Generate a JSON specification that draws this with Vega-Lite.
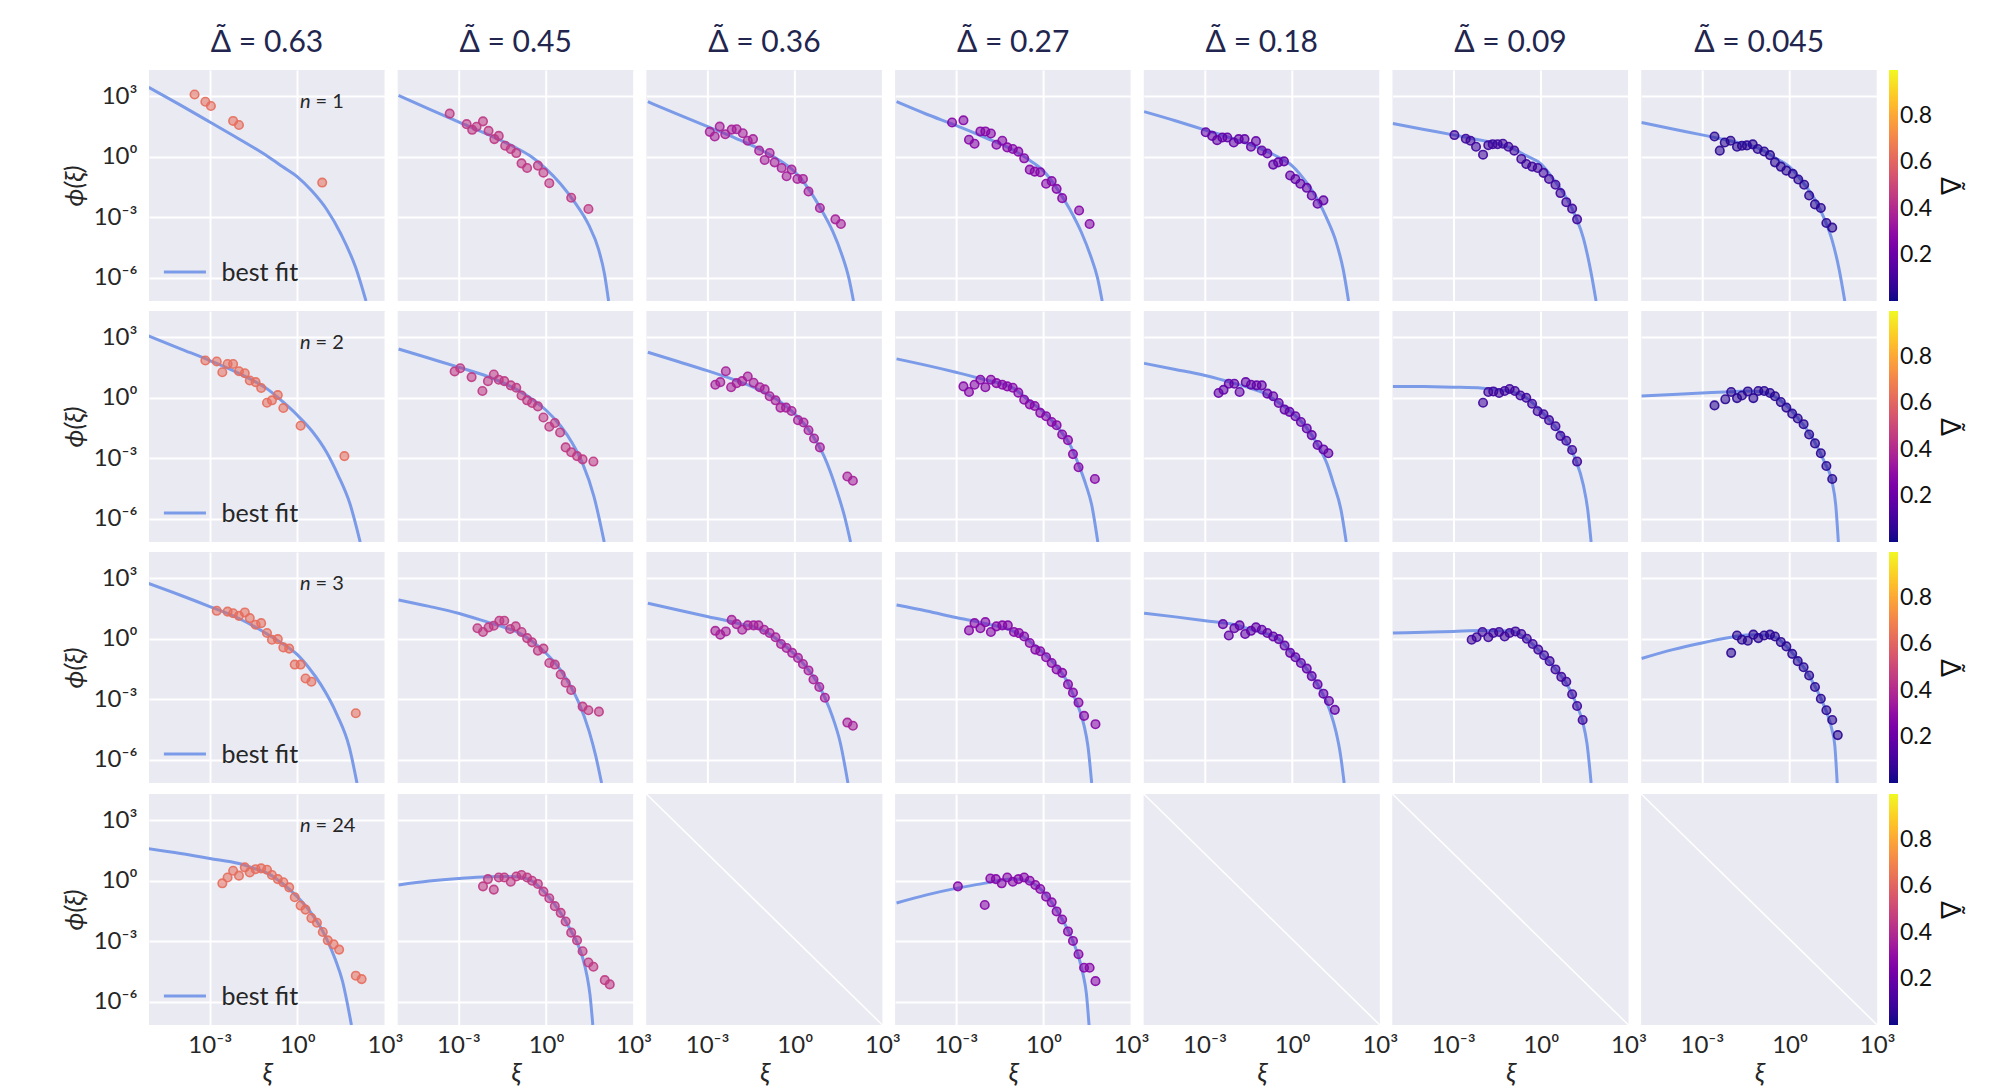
{
  "$schema": "https://vega.github.io/schema/vega-lite/v6.json",
  "background": "white",
  "padding": {"left": 61, "top": 28, "right": 5, "bottom": 5},
  "spacing": 10,
  "datasets": {
    "r1": [
      {"kind":"note","delta":0.63,"n_label":"= 1"},
      {"kind":"fit","delta":0.63,"log_xi":-5.09,"log_phi":3.43},{"kind":"fit","delta":0.63,"log_xi":-4,"log_phi":2.55},{"kind":"fit","delta":0.63,"log_xi":-3,"log_phi":1.72},{"kind":"fit","delta":0.63,"log_xi":-2,"log_phi":0.88},{"kind":"fit","delta":0.63,"log_xi":-1,"log_phi":0.0},{"kind":"fit","delta":0.63,"log_xi":-0.5,"log_phi":-0.5},{"kind":"fit","delta":0.63,"log_xi":0,"log_phi":-1.0},{"kind":"fit","delta":0.63,"log_xi":0.5,"log_phi":-1.7},{"kind":"fit","delta":0.63,"log_xi":1.0,"log_phi":-2.6},{"kind":"fit","delta":0.63,"log_xi":1.5,"log_phi":-3.85},{"kind":"fit","delta":0.63,"log_xi":2.0,"log_phi":-5.5},{"kind":"fit","delta":0.63,"log_xi":2.35,"log_phi":-7.14},
      {"kind":"fit","delta":0.45,"log_xi":-5.05,"log_phi":3.03},{"kind":"fit","delta":0.45,"log_xi":-4,"log_phi":2.35},{"kind":"fit","delta":0.45,"log_xi":-3,"log_phi":1.72},{"kind":"fit","delta":0.45,"log_xi":-2,"log_phi":1.1},{"kind":"fit","delta":0.45,"log_xi":-1,"log_phi":0.42},{"kind":"fit","delta":0.45,"log_xi":-0.5,"log_phi":0.0},{"kind":"fit","delta":0.45,"log_xi":0,"log_phi":-0.6},{"kind":"fit","delta":0.45,"log_xi":0.5,"log_phi":-1.35},{"kind":"fit","delta":0.45,"log_xi":1.0,"log_phi":-2.3},{"kind":"fit","delta":0.45,"log_xi":1.45,"log_phi":-3.35},{"kind":"fit","delta":0.45,"log_xi":1.8,"log_phi":-4.6},{"kind":"fit","delta":0.45,"log_xi":2.0,"log_phi":-5.8},{"kind":"fit","delta":0.45,"log_xi":2.14,"log_phi":-7.14},
      {"kind":"fit","delta":0.36,"log_xi":-5.03,"log_phi":2.72},{"kind":"fit","delta":0.36,"log_xi":-4,"log_phi":2.1},{"kind":"fit","delta":0.36,"log_xi":-3,"log_phi":1.5},{"kind":"fit","delta":0.36,"log_xi":-2,"log_phi":0.9},{"kind":"fit","delta":0.36,"log_xi":-1,"log_phi":0.22},{"kind":"fit","delta":0.36,"log_xi":-0.5,"log_phi":-0.2},{"kind":"fit","delta":0.36,"log_xi":0,"log_phi":-0.75},{"kind":"fit","delta":0.36,"log_xi":0.5,"log_phi":-1.65},{"kind":"fit","delta":0.36,"log_xi":0.9,"log_phi":-2.6},{"kind":"fit","delta":0.36,"log_xi":1.3,"log_phi":-3.7},{"kind":"fit","delta":0.36,"log_xi":1.6,"log_phi":-4.8},{"kind":"fit","delta":0.36,"log_xi":1.85,"log_phi":-6.0},{"kind":"fit","delta":0.36,"log_xi":2.01,"log_phi":-7.14},
      {"kind":"fit","delta":0.27,"log_xi":-5.03,"log_phi":2.72},{"kind":"fit","delta":0.27,"log_xi":-4,"log_phi":2.1},{"kind":"fit","delta":0.27,"log_xi":-3,"log_phi":1.55},{"kind":"fit","delta":0.27,"log_xi":-2,"log_phi":0.95},{"kind":"fit","delta":0.27,"log_xi":-1,"log_phi":0.3},{"kind":"fit","delta":0.27,"log_xi":-0.5,"log_phi":-0.15},{"kind":"fit","delta":0.27,"log_xi":0,"log_phi":-0.7},{"kind":"fit","delta":0.27,"log_xi":0.5,"log_phi":-1.65},{"kind":"fit","delta":0.27,"log_xi":0.9,"log_phi":-2.6},{"kind":"fit","delta":0.27,"log_xi":1.3,"log_phi":-3.75},{"kind":"fit","delta":0.27,"log_xi":1.6,"log_phi":-4.85},{"kind":"fit","delta":0.27,"log_xi":1.85,"log_phi":-6.0},{"kind":"fit","delta":0.27,"log_xi":2.01,"log_phi":-7.14},
      {"kind":"fit","delta":0.18,"log_xi":-5.07,"log_phi":2.23},{"kind":"fit","delta":0.18,"log_xi":-4,"log_phi":1.78},{"kind":"fit","delta":0.18,"log_xi":-3,"log_phi":1.33},{"kind":"fit","delta":0.18,"log_xi":-2,"log_phi":0.88},{"kind":"fit","delta":0.18,"log_xi":-1,"log_phi":0.35},{"kind":"fit","delta":0.18,"log_xi":-0.5,"log_phi":0.0},{"kind":"fit","delta":0.18,"log_xi":0,"log_phi":-0.45},{"kind":"fit","delta":0.18,"log_xi":0.5,"log_phi":-1.3},{"kind":"fit","delta":0.18,"log_xi":0.9,"log_phi":-2.2},{"kind":"fit","delta":0.18,"log_xi":1.2,"log_phi":-3.1},{"kind":"fit","delta":0.18,"log_xi":1.5,"log_phi":-4.2},{"kind":"fit","delta":0.18,"log_xi":1.75,"log_phi":-5.6},{"kind":"fit","delta":0.18,"log_xi":1.93,"log_phi":-7.14},
      {"kind":"fit","delta":0.09,"log_xi":-5.07,"log_phi":1.64},{"kind":"fit","delta":0.09,"log_xi":-4,"log_phi":1.35},{"kind":"fit","delta":0.09,"log_xi":-3,"log_phi":1.08},{"kind":"fit","delta":0.09,"log_xi":-2,"log_phi":0.8},{"kind":"fit","delta":0.09,"log_xi":-1.37,"log_phi":0.6},{"kind":"fit","delta":0.09,"log_xi":-1,"log_phi":0.42},{"kind":"fit","delta":0.09,"log_xi":-0.5,"log_phi":0.05},{"kind":"fit","delta":0.09,"log_xi":0,"log_phi":-0.35},{"kind":"fit","delta":0.09,"log_xi":0.5,"log_phi":-1.25},{"kind":"fit","delta":0.09,"log_xi":0.9,"log_phi":-2.1},{"kind":"fit","delta":0.09,"log_xi":1.2,"log_phi":-3.0},{"kind":"fit","delta":0.09,"log_xi":1.45,"log_phi":-4.0},{"kind":"fit","delta":0.09,"log_xi":1.7,"log_phi":-5.6},{"kind":"fit","delta":0.09,"log_xi":1.89,"log_phi":-7.14},
      {"kind":"fit","delta":0.045,"log_xi":-5.07,"log_phi":1.69},{"kind":"fit","delta":0.045,"log_xi":-4,"log_phi":1.37},{"kind":"fit","delta":0.045,"log_xi":-3,"log_phi":1.08},{"kind":"fit","delta":0.045,"log_xi":-2,"log_phi":0.78},{"kind":"fit","delta":0.045,"log_xi":-1.5,"log_phi":0.62},{"kind":"fit","delta":0.045,"log_xi":-1,"log_phi":0.38},{"kind":"fit","delta":0.045,"log_xi":-0.5,"log_phi":-0.05},{"kind":"fit","delta":0.045,"log_xi":0,"log_phi":-0.5},{"kind":"fit","delta":0.045,"log_xi":0.5,"log_phi":-1.35},{"kind":"fit","delta":0.045,"log_xi":0.9,"log_phi":-2.2},{"kind":"fit","delta":0.045,"log_xi":1.2,"log_phi":-3.1},{"kind":"fit","delta":0.045,"log_xi":1.45,"log_phi":-4.1},{"kind":"fit","delta":0.045,"log_xi":1.7,"log_phi":-5.6},{"kind":"fit","delta":0.045,"log_xi":1.89,"log_phi":-7.14},
      {"kind":"pt","delta":0.63,"log_xi":-3.52,"log_phi":3.08},{"kind":"pt","delta":0.63,"log_xi":-3.15,"log_phi":2.72},{"kind":"pt","delta":0.63,"log_xi":-2.96,"log_phi":2.51},{"kind":"pt","delta":0.63,"log_xi":-2.2,"log_phi":1.77},{"kind":"pt","delta":0.63,"log_xi":-2.0,"log_phi":1.57},{"kind":"pt","delta":0.63,"log_xi":0.85,"log_phi":-1.28},
      {"kind":"pt","delta":0.45,"log_xi":-3.3,"log_phi":2.13},{"kind":"pt","delta":0.45,"log_xi":-2.72,"log_phi":1.61},{"kind":"pt","delta":0.45,"log_xi":-2.53,"log_phi":1.33},{"kind":"pt","delta":0.45,"log_xi":-2.38,"log_phi":1.48},{"kind":"pt","delta":0.45,"log_xi":-2.16,"log_phi":1.75},{"kind":"pt","delta":0.45,"log_xi":-1.97,"log_phi":1.28},{"kind":"pt","delta":0.45,"log_xi":-1.77,"log_phi":0.87},{"kind":"pt","delta":0.45,"log_xi":-1.62,"log_phi":1.03},{"kind":"pt","delta":0.45,"log_xi":-1.4,"log_phi":0.54},{"kind":"pt","delta":0.45,"log_xi":-1.21,"log_phi":0.38},{"kind":"pt","delta":0.45,"log_xi":-1.02,"log_phi":0.18},{"kind":"pt","delta":0.45,"log_xi":-0.84,"log_phi":-0.33},{"kind":"pt","delta":0.45,"log_xi":-0.65,"log_phi":-0.56},{"kind":"pt","delta":0.45,"log_xi":-0.28,"log_phi":-0.44},{"kind":"pt","delta":0.45,"log_xi":-0.09,"log_phi":-0.79},{"kind":"pt","delta":0.45,"log_xi":0.11,"log_phi":-1.31},{"kind":"pt","delta":0.45,"log_xi":0.86,"log_phi":-2.03},{"kind":"pt","delta":0.45,"log_xi":1.45,"log_phi":-2.59},
      {"kind":"pt","delta":0.36,"log_xi":-2.91,"log_phi":1.23},{"kind":"pt","delta":0.36,"log_xi":-2.74,"log_phi":1.0},{"kind":"pt","delta":0.36,"log_xi":-2.57,"log_phi":1.49},{"kind":"pt","delta":0.36,"log_xi":-2.38,"log_phi":1.11},{"kind":"pt","delta":0.36,"log_xi":-2.16,"log_phi":1.34},{"kind":"pt","delta":0.36,"log_xi":-1.99,"log_phi":1.36},{"kind":"pt","delta":0.36,"log_xi":-1.78,"log_phi":1.16},{"kind":"pt","delta":0.36,"log_xi":-1.61,"log_phi":0.79},{"kind":"pt","delta":0.36,"log_xi":-1.43,"log_phi":0.87},{"kind":"pt","delta":0.36,"log_xi":-1.22,"log_phi":0.3},{"kind":"pt","delta":0.36,"log_xi":-1.03,"log_phi":-0.16},{"kind":"pt","delta":0.36,"log_xi":-0.86,"log_phi":0.18},{"kind":"pt","delta":0.36,"log_xi":-0.69,"log_phi":-0.28},{"kind":"pt","delta":0.36,"log_xi":-0.45,"log_phi":-0.56},{"kind":"pt","delta":0.36,"log_xi":-0.28,"log_phi":-0.97},{"kind":"pt","delta":0.36,"log_xi":-0.11,"log_phi":-0.64},{"kind":"pt","delta":0.36,"log_xi":0.09,"log_phi":-1.1},{"kind":"pt","delta":0.36,"log_xi":0.28,"log_phi":-1.1},{"kind":"pt","delta":0.36,"log_xi":0.47,"log_phi":-1.72},{"kind":"pt","delta":0.36,"log_xi":0.86,"log_phi":-2.54},{"kind":"pt","delta":0.36,"log_xi":1.39,"log_phi":-3.1},{"kind":"pt","delta":0.36,"log_xi":1.58,"log_phi":-3.33},
      {"kind":"pt","delta":0.27,"log_xi":-3.13,"log_phi":1.69},{"kind":"pt","delta":0.27,"log_xi":-2.74,"log_phi":1.8},{"kind":"pt","delta":0.27,"log_xi":-2.55,"log_phi":0.84},{"kind":"pt","delta":0.27,"log_xi":-2.36,"log_phi":0.64},{"kind":"pt","delta":0.27,"log_xi":-2.16,"log_phi":1.25},{"kind":"pt","delta":0.27,"log_xi":-1.99,"log_phi":1.25},{"kind":"pt","delta":0.27,"log_xi":-1.8,"log_phi":1.15},{"kind":"pt","delta":0.27,"log_xi":-1.61,"log_phi":0.59},{"kind":"pt","delta":0.27,"log_xi":-1.41,"log_phi":0.79},{"kind":"pt","delta":0.27,"log_xi":-1.24,"log_phi":0.46},{"kind":"pt","delta":0.27,"log_xi":-1.05,"log_phi":0.38},{"kind":"pt","delta":0.27,"log_xi":-0.86,"log_phi":0.25},{"kind":"pt","delta":0.27,"log_xi":-0.66,"log_phi":-0.08},{"kind":"pt","delta":0.27,"log_xi":-0.47,"log_phi":-0.64},{"kind":"pt","delta":0.27,"log_xi":-0.3,"log_phi":-0.74},{"kind":"pt","delta":0.27,"log_xi":-0.11,"log_phi":-0.77},{"kind":"pt","delta":0.27,"log_xi":0.09,"log_phi":-1.34},{"kind":"pt","delta":0.27,"log_xi":0.28,"log_phi":-1.21},{"kind":"pt","delta":0.27,"log_xi":0.45,"log_phi":-1.59},{"kind":"pt","delta":0.27,"log_xi":0.64,"log_phi":-2.05},{"kind":"pt","delta":0.27,"log_xi":1.22,"log_phi":-2.66},{"kind":"pt","delta":0.27,"log_xi":1.58,"log_phi":-3.33},
      {"kind":"pt","delta":0.18,"log_xi":-2.96,"log_phi":1.21},{"kind":"pt","delta":0.18,"log_xi":-2.74,"log_phi":1.03},{"kind":"pt","delta":0.18,"log_xi":-2.57,"log_phi":0.82},{"kind":"pt","delta":0.18,"log_xi":-2.39,"log_phi":0.95},{"kind":"pt","delta":0.18,"log_xi":-2.22,"log_phi":0.95},{"kind":"pt","delta":0.18,"log_xi":-2.0,"log_phi":0.7},{"kind":"pt","delta":0.18,"log_xi":-1.83,"log_phi":0.87},{"kind":"pt","delta":0.18,"log_xi":-1.63,"log_phi":0.87},{"kind":"pt","delta":0.18,"log_xi":-1.41,"log_phi":0.49},{"kind":"pt","delta":0.18,"log_xi":-1.24,"log_phi":0.77},{"kind":"pt","delta":0.18,"log_xi":-1.04,"log_phi":0.3},{"kind":"pt","delta":0.18,"log_xi":-0.85,"log_phi":0.16},{"kind":"pt","delta":0.18,"log_xi":-0.65,"log_phi":-0.39},{"kind":"pt","delta":0.18,"log_xi":-0.48,"log_phi":-0.28},{"kind":"pt","delta":0.18,"log_xi":-0.28,"log_phi":-0.23},{"kind":"pt","delta":0.18,"log_xi":-0.07,"log_phi":-0.93},{"kind":"pt","delta":0.18,"log_xi":0.11,"log_phi":-1.11},{"kind":"pt","delta":0.18,"log_xi":0.28,"log_phi":-1.34},{"kind":"pt","delta":0.18,"log_xi":0.5,"log_phi":-1.54},{"kind":"pt","delta":0.18,"log_xi":0.67,"log_phi":-1.92},{"kind":"pt","delta":0.18,"log_xi":0.87,"log_phi":-2.33},{"kind":"pt","delta":0.18,"log_xi":1.07,"log_phi":-2.16},
      {"kind":"pt","delta":0.09,"log_xi":-2.96,"log_phi":1.07},{"kind":"pt","delta":0.09,"log_xi":-2.57,"log_phi":0.89},{"kind":"pt","delta":0.09,"log_xi":-2.41,"log_phi":0.79},{"kind":"pt","delta":0.09,"log_xi":-2.22,"log_phi":0.49},{"kind":"pt","delta":0.09,"log_xi":-1.98,"log_phi":0.1},{"kind":"pt","delta":0.09,"log_xi":-1.8,"log_phi":0.57},{"kind":"pt","delta":0.09,"log_xi":-1.65,"log_phi":0.62},{"kind":"pt","delta":0.09,"log_xi":-1.48,"log_phi":0.62},{"kind":"pt","delta":0.09,"log_xi":-1.3,"log_phi":0.64},{"kind":"pt","delta":0.09,"log_xi":-1.11,"log_phi":0.49},{"kind":"pt","delta":0.09,"log_xi":-0.91,"log_phi":0.3},{"kind":"pt","delta":0.09,"log_xi":-0.67,"log_phi":-0.11},{"kind":"pt","delta":0.09,"log_xi":-0.5,"log_phi":-0.36},{"kind":"pt","delta":0.09,"log_xi":-0.3,"log_phi":-0.49},{"kind":"pt","delta":0.09,"log_xi":-0.11,"log_phi":-0.56},{"kind":"pt","delta":0.09,"log_xi":0.09,"log_phi":-0.8},{"kind":"pt","delta":0.09,"log_xi":0.28,"log_phi":-1.1},{"kind":"pt","delta":0.09,"log_xi":0.5,"log_phi":-1.39},{"kind":"pt","delta":0.09,"log_xi":0.67,"log_phi":-1.8},{"kind":"pt","delta":0.09,"log_xi":0.87,"log_phi":-2.25},{"kind":"pt","delta":0.09,"log_xi":1.07,"log_phi":-2.57},{"kind":"pt","delta":0.09,"log_xi":1.24,"log_phi":-3.1},
      {"kind":"pt","delta":0.045,"log_xi":-2.57,"log_phi":1.0},{"kind":"pt","delta":0.045,"log_xi":-2.39,"log_phi":0.3},{"kind":"pt","delta":0.045,"log_xi":-2.22,"log_phi":0.7},{"kind":"pt","delta":0.045,"log_xi":-2.02,"log_phi":0.79},{"kind":"pt","delta":0.045,"log_xi":-1.8,"log_phi":0.49},{"kind":"pt","delta":0.045,"log_xi":-1.63,"log_phi":0.54},{"kind":"pt","delta":0.045,"log_xi":-1.46,"log_phi":0.56},{"kind":"pt","delta":0.045,"log_xi":-1.26,"log_phi":0.61},{"kind":"pt","delta":0.045,"log_xi":-1.09,"log_phi":0.38},{"kind":"pt","delta":0.045,"log_xi":-0.87,"log_phi":0.26},{"kind":"pt","delta":0.045,"log_xi":-0.67,"log_phi":0.08},{"kind":"pt","delta":0.045,"log_xi":-0.5,"log_phi":-0.28},{"kind":"pt","delta":0.045,"log_xi":-0.3,"log_phi":-0.49},{"kind":"pt","delta":0.045,"log_xi":-0.11,"log_phi":-0.69},{"kind":"pt","delta":0.045,"log_xi":0.11,"log_phi":-0.85},{"kind":"pt","delta":0.045,"log_xi":0.3,"log_phi":-1.13},{"kind":"pt","delta":0.045,"log_xi":0.5,"log_phi":-1.39},{"kind":"pt","delta":0.045,"log_xi":0.67,"log_phi":-1.92},{"kind":"pt","delta":0.045,"log_xi":0.87,"log_phi":-2.36},{"kind":"pt","delta":0.045,"log_xi":1.07,"log_phi":-2.54},{"kind":"pt","delta":0.045,"log_xi":1.26,"log_phi":-3.28},{"kind":"pt","delta":0.045,"log_xi":1.46,"log_phi":-3.51}
    ],
    "r2": [
      {"kind":"note","delta":0.63,"n_label":"= 2"},
      {"kind":"fit","delta":0.63,"log_xi":-5.11,"log_phi":3.07},{"kind":"fit","delta":0.63,"log_xi":-4,"log_phi":2.42},{"kind":"fit","delta":0.63,"log_xi":-3,"log_phi":1.84},{"kind":"fit","delta":0.63,"log_xi":-2,"log_phi":1.2},{"kind":"fit","delta":0.63,"log_xi":-1,"log_phi":0.4},{"kind":"fit","delta":0.63,"log_xi":-0.5,"log_phi":-0.2},{"kind":"fit","delta":0.63,"log_xi":0,"log_phi":-0.87},{"kind":"fit","delta":0.63,"log_xi":0.5,"log_phi":-1.65},{"kind":"fit","delta":0.63,"log_xi":1.0,"log_phi":-2.7},{"kind":"fit","delta":0.63,"log_xi":1.4,"log_phi":-3.85},{"kind":"fit","delta":0.63,"log_xi":1.8,"log_phi":-5.25},{"kind":"fit","delta":0.63,"log_xi":2.15,"log_phi":-7.14},
      {"kind":"fit","delta":0.45,"log_xi":-5.05,"log_phi":2.41},{"kind":"fit","delta":0.45,"log_xi":-4,"log_phi":1.95},{"kind":"fit","delta":0.45,"log_xi":-3,"log_phi":1.51},{"kind":"fit","delta":0.45,"log_xi":-2,"log_phi":1.05},{"kind":"fit","delta":0.45,"log_xi":-1,"log_phi":0.4},{"kind":"fit","delta":0.45,"log_xi":-0.5,"log_phi":-0.05},{"kind":"fit","delta":0.45,"log_xi":0,"log_phi":-0.62},{"kind":"fit","delta":0.45,"log_xi":0.5,"log_phi":-1.4},{"kind":"fit","delta":0.45,"log_xi":0.9,"log_phi":-2.25},{"kind":"fit","delta":0.45,"log_xi":1.25,"log_phi":-3.25},{"kind":"fit","delta":0.45,"log_xi":1.64,"log_phi":-4.89},{"kind":"fit","delta":0.45,"log_xi":1.99,"log_phi":-7.14},
      {"kind":"fit","delta":0.36,"log_xi":-5.03,"log_phi":2.25},{"kind":"fit","delta":0.36,"log_xi":-4,"log_phi":1.79},{"kind":"fit","delta":0.36,"log_xi":-3,"log_phi":1.34},{"kind":"fit","delta":0.36,"log_xi":-2,"log_phi":0.85},{"kind":"fit","delta":0.36,"log_xi":-1.56,"log_phi":0.61},{"kind":"fit","delta":0.36,"log_xi":-1,"log_phi":0.22},{"kind":"fit","delta":0.36,"log_xi":-0.5,"log_phi":-0.2},{"kind":"fit","delta":0.36,"log_xi":0,"log_phi":-0.8},{"kind":"fit","delta":0.36,"log_xi":0.58,"log_phi":-1.8},{"kind":"fit","delta":0.36,"log_xi":1.01,"log_phi":-2.92},{"kind":"fit","delta":0.36,"log_xi":1.43,"log_phi":-4.56},{"kind":"fit","delta":0.36,"log_xi":1.7,"log_phi":-5.85},{"kind":"fit","delta":0.36,"log_xi":1.91,"log_phi":-7.14},
      {"kind":"fit","delta":0.27,"log_xi":-5.03,"log_phi":1.92},{"kind":"fit","delta":0.27,"log_xi":-4,"log_phi":1.6},{"kind":"fit","delta":0.27,"log_xi":-3,"log_phi":1.26},{"kind":"fit","delta":0.27,"log_xi":-2,"log_phi":0.89},{"kind":"fit","delta":0.27,"log_xi":-1,"log_phi":0.45},{"kind":"fit","delta":0.27,"log_xi":-0.5,"log_phi":-0.15},{"kind":"fit","delta":0.27,"log_xi":0,"log_phi":-0.7},{"kind":"fit","delta":0.27,"log_xi":0.5,"log_phi":-1.5},{"kind":"fit","delta":0.27,"log_xi":0.9,"log_phi":-2.3},{"kind":"fit","delta":0.27,"log_xi":1.2,"log_phi":-3.3},{"kind":"fit","delta":0.27,"log_xi":1.45,"log_phi":-4.3},{"kind":"fit","delta":0.27,"log_xi":1.65,"log_phi":-5.3},{"kind":"fit","delta":0.27,"log_xi":1.86,"log_phi":-7.14},
      {"kind":"fit","delta":0.18,"log_xi":-5.07,"log_phi":1.7},{"kind":"fit","delta":0.18,"log_xi":-4,"log_phi":1.4},{"kind":"fit","delta":0.18,"log_xi":-2.98,"log_phi":1.1},{"kind":"fit","delta":0.18,"log_xi":-2,"log_phi":0.72},{"kind":"fit","delta":0.18,"log_xi":-1.37,"log_phi":0.44},{"kind":"fit","delta":0.18,"log_xi":-1,"log_phi":0.25},{"kind":"fit","delta":0.18,"log_xi":-0.5,"log_phi":-0.2},{"kind":"fit","delta":0.18,"log_xi":0,"log_phi":-0.75},{"kind":"fit","delta":0.18,"log_xi":0.5,"log_phi":-1.5},{"kind":"fit","delta":0.18,"log_xi":0.9,"log_phi":-2.4},{"kind":"fit","delta":0.18,"log_xi":1.2,"log_phi":-3.3},{"kind":"fit","delta":0.18,"log_xi":1.41,"log_phi":-4.23},{"kind":"fit","delta":0.18,"log_xi":1.67,"log_phi":-5.54},{"kind":"fit","delta":0.18,"log_xi":1.85,"log_phi":-7.14},
      {"kind":"fit","delta":0.09,"log_xi":-5.07,"log_phi":0.56},{"kind":"fit","delta":0.09,"log_xi":-4,"log_phi":0.55},{"kind":"fit","delta":0.09,"log_xi":-3,"log_phi":0.52},{"kind":"fit","delta":0.09,"log_xi":-2,"log_phi":0.47},{"kind":"fit","delta":0.09,"log_xi":-1.5,"log_phi":0.4},{"kind":"fit","delta":0.09,"log_xi":-1,"log_phi":0.3},{"kind":"fit","delta":0.09,"log_xi":-0.5,"log_phi":0.0},{"kind":"fit","delta":0.09,"log_xi":0,"log_phi":-0.65},{"kind":"fit","delta":0.09,"log_xi":0.5,"log_phi":-1.45},{"kind":"fit","delta":0.09,"log_xi":0.9,"log_phi":-2.25},{"kind":"fit","delta":0.09,"log_xi":1.2,"log_phi":-3.1},{"kind":"fit","delta":0.09,"log_xi":1.45,"log_phi":-4.3},{"kind":"fit","delta":0.09,"log_xi":1.6,"log_phi":-5.5},{"kind":"fit","delta":0.09,"log_xi":1.72,"log_phi":-7.14},
      {"kind":"fit","delta":0.045,"log_xi":-5.07,"log_phi":0.08},{"kind":"fit","delta":0.045,"log_xi":-4,"log_phi":0.16},{"kind":"fit","delta":0.045,"log_xi":-3,"log_phi":0.23},{"kind":"fit","delta":0.045,"log_xi":-2,"log_phi":0.3},{"kind":"fit","delta":0.045,"log_xi":-1.5,"log_phi":0.33},{"kind":"fit","delta":0.045,"log_xi":-1,"log_phi":0.3},{"kind":"fit","delta":0.045,"log_xi":-0.5,"log_phi":0.05},{"kind":"fit","delta":0.045,"log_xi":0,"log_phi":-0.55},{"kind":"fit","delta":0.045,"log_xi":0.5,"log_phi":-1.4},{"kind":"fit","delta":0.045,"log_xi":0.9,"log_phi":-2.3},{"kind":"fit","delta":0.045,"log_xi":1.2,"log_phi":-3.2},{"kind":"fit","delta":0.045,"log_xi":1.46,"log_phi":-4.2},{"kind":"fit","delta":0.045,"log_xi":1.58,"log_phi":-5.3},{"kind":"fit","delta":0.045,"log_xi":1.67,"log_phi":-7.14},
      {"kind":"pt","delta":0.63,"log_xi":-3.15,"log_phi":1.84},{"kind":"pt","delta":0.63,"log_xi":-2.76,"log_phi":1.79},{"kind":"pt","delta":0.63,"log_xi":-2.39,"log_phi":1.67},{"kind":"pt","delta":0.63,"log_xi":-2.2,"log_phi":1.67},{"kind":"pt","delta":0.63,"log_xi":-2.57,"log_phi":1.26},{"kind":"pt","delta":0.63,"log_xi":-2.0,"log_phi":1.31},{"kind":"pt","delta":0.63,"log_xi":-1.8,"log_phi":1.21},{"kind":"pt","delta":0.63,"log_xi":-1.63,"log_phi":0.85},{"kind":"pt","delta":0.63,"log_xi":-1.43,"log_phi":0.77},{"kind":"pt","delta":0.63,"log_xi":-1.24,"log_phi":0.48},{"kind":"pt","delta":0.63,"log_xi":-1.04,"log_phi":-0.25},{"kind":"pt","delta":0.63,"log_xi":-0.87,"log_phi":-0.13},{"kind":"pt","delta":0.63,"log_xi":-0.67,"log_phi":0.13},{"kind":"pt","delta":0.63,"log_xi":-0.48,"log_phi":-0.51},{"kind":"pt","delta":0.63,"log_xi":0.11,"log_phi":-1.39},{"kind":"pt","delta":0.63,"log_xi":1.61,"log_phi":-2.89},
      {"kind":"pt","delta":0.45,"log_xi":-3.13,"log_phi":1.3},{"kind":"pt","delta":0.45,"log_xi":-2.94,"log_phi":1.46},{"kind":"pt","delta":0.45,"log_xi":-2.55,"log_phi":1.02},{"kind":"pt","delta":0.45,"log_xi":-2.18,"log_phi":0.33},{"kind":"pt","delta":0.45,"log_xi":-1.99,"log_phi":0.82},{"kind":"pt","delta":0.45,"log_xi":-1.79,"log_phi":1.15},{"kind":"pt","delta":0.45,"log_xi":-1.62,"log_phi":0.89},{"kind":"pt","delta":0.45,"log_xi":-1.43,"log_phi":0.82},{"kind":"pt","delta":0.45,"log_xi":-1.21,"log_phi":0.61},{"kind":"pt","delta":0.45,"log_xi":-1.02,"log_phi":0.49},{"kind":"pt","delta":0.45,"log_xi":-0.84,"log_phi":0.11},{"kind":"pt","delta":0.45,"log_xi":-0.65,"log_phi":-0.13},{"kind":"pt","delta":0.45,"log_xi":-0.48,"log_phi":-0.26},{"kind":"pt","delta":0.45,"log_xi":-0.28,"log_phi":-0.43},{"kind":"pt","delta":0.45,"log_xi":-0.09,"log_phi":-0.98},{"kind":"pt","delta":0.45,"log_xi":0.11,"log_phi":-1.44},{"kind":"pt","delta":0.45,"log_xi":0.3,"log_phi":-1.25},{"kind":"pt","delta":0.45,"log_xi":0.48,"log_phi":-1.72},{"kind":"pt","delta":0.45,"log_xi":0.67,"log_phi":-2.46},{"kind":"pt","delta":0.45,"log_xi":0.86,"log_phi":-2.7},{"kind":"pt","delta":0.45,"log_xi":1.06,"log_phi":-2.89},{"kind":"pt","delta":0.45,"log_xi":1.25,"log_phi":-3.05},{"kind":"pt","delta":0.45,"log_xi":1.62,"log_phi":-3.16},
      {"kind":"pt","delta":0.36,"log_xi":-2.72,"log_phi":0.64},{"kind":"pt","delta":0.36,"log_xi":-2.55,"log_phi":0.77},{"kind":"pt","delta":0.36,"log_xi":-2.36,"log_phi":1.31},{"kind":"pt","delta":0.36,"log_xi":-2.18,"log_phi":0.52},{"kind":"pt","delta":0.36,"log_xi":-1.99,"log_phi":0.72},{"kind":"pt","delta":0.36,"log_xi":-1.8,"log_phi":0.82},{"kind":"pt","delta":0.36,"log_xi":-1.61,"log_phi":1.05},{"kind":"pt","delta":0.36,"log_xi":-1.41,"log_phi":0.74},{"kind":"pt","delta":0.36,"log_xi":-1.2,"log_phi":0.52},{"kind":"pt","delta":0.36,"log_xi":-1.03,"log_phi":0.41},{"kind":"pt","delta":0.36,"log_xi":-0.86,"log_phi":0.07},{"kind":"pt","delta":0.36,"log_xi":-0.66,"log_phi":-0.13},{"kind":"pt","delta":0.36,"log_xi":-0.49,"log_phi":-0.49},{"kind":"pt","delta":0.36,"log_xi":-0.3,"log_phi":-0.49},{"kind":"pt","delta":0.36,"log_xi":-0.11,"log_phi":-0.66},{"kind":"pt","delta":0.36,"log_xi":0.11,"log_phi":-1.11},{"kind":"pt","delta":0.36,"log_xi":0.3,"log_phi":-1.23},{"kind":"pt","delta":0.36,"log_xi":0.47,"log_phi":-1.61},{"kind":"pt","delta":0.36,"log_xi":0.66,"log_phi":-2.02},{"kind":"pt","delta":0.36,"log_xi":0.86,"log_phi":-2.46},{"kind":"pt","delta":0.36,"log_xi":1.8,"log_phi":-3.9},{"kind":"pt","delta":0.36,"log_xi":1.99,"log_phi":-4.11},
      {"kind":"pt","delta":0.27,"log_xi":-2.74,"log_phi":0.56},{"kind":"pt","delta":0.27,"log_xi":-2.55,"log_phi":0.28},{"kind":"pt","delta":0.27,"log_xi":-2.36,"log_phi":0.64},{"kind":"pt","delta":0.27,"log_xi":-2.16,"log_phi":0.89},{"kind":"pt","delta":0.27,"log_xi":-1.99,"log_phi":0.52},{"kind":"pt","delta":0.27,"log_xi":-1.8,"log_phi":0.89},{"kind":"pt","delta":0.27,"log_xi":-1.61,"log_phi":0.72},{"kind":"pt","delta":0.27,"log_xi":-1.41,"log_phi":0.64},{"kind":"pt","delta":0.27,"log_xi":-1.24,"log_phi":0.56},{"kind":"pt","delta":0.27,"log_xi":-1.05,"log_phi":0.49},{"kind":"pt","delta":0.27,"log_xi":-0.86,"log_phi":0.25},{"kind":"pt","delta":0.27,"log_xi":-0.66,"log_phi":-0.1},{"kind":"pt","delta":0.27,"log_xi":-0.47,"log_phi":-0.33},{"kind":"pt","delta":0.27,"log_xi":-0.3,"log_phi":-0.41},{"kind":"pt","delta":0.27,"log_xi":-0.11,"log_phi":-0.75},{"kind":"pt","delta":0.27,"log_xi":0.09,"log_phi":-0.92},{"kind":"pt","delta":0.27,"log_xi":0.28,"log_phi":-1.2},{"kind":"pt","delta":0.27,"log_xi":0.45,"log_phi":-1.36},{"kind":"pt","delta":0.27,"log_xi":0.64,"log_phi":-1.82},{"kind":"pt","delta":0.27,"log_xi":0.84,"log_phi":-2.1},{"kind":"pt","delta":0.27,"log_xi":1.01,"log_phi":-2.79},{"kind":"pt","delta":0.27,"log_xi":1.2,"log_phi":-3.44},{"kind":"pt","delta":0.27,"log_xi":1.76,"log_phi":-4.02},
      {"kind":"pt","delta":0.18,"log_xi":-2.52,"log_phi":0.23},{"kind":"pt","delta":0.18,"log_xi":-2.35,"log_phi":0.39},{"kind":"pt","delta":0.18,"log_xi":-2.17,"log_phi":0.69},{"kind":"pt","delta":0.18,"log_xi":-1.98,"log_phi":0.69},{"kind":"pt","delta":0.18,"log_xi":-1.8,"log_phi":0.28},{"kind":"pt","delta":0.18,"log_xi":-1.59,"log_phi":0.77},{"kind":"pt","delta":0.18,"log_xi":-1.41,"log_phi":0.64},{"kind":"pt","delta":0.18,"log_xi":-1.22,"log_phi":0.61},{"kind":"pt","delta":0.18,"log_xi":-1.04,"log_phi":0.61},{"kind":"pt","delta":0.18,"log_xi":-0.85,"log_phi":0.2},{"kind":"pt","delta":0.18,"log_xi":-0.65,"log_phi":0.07},{"kind":"pt","delta":0.18,"log_xi":-0.46,"log_phi":-0.26},{"kind":"pt","delta":0.18,"log_xi":-0.26,"log_phi":-0.59},{"kind":"pt","delta":0.18,"log_xi":-0.09,"log_phi":-0.7},{"kind":"pt","delta":0.18,"log_xi":0.11,"log_phi":-0.92},{"kind":"pt","delta":0.18,"log_xi":0.3,"log_phi":-1.2},{"kind":"pt","delta":0.18,"log_xi":0.5,"log_phi":-1.52},{"kind":"pt","delta":0.18,"log_xi":0.67,"log_phi":-1.85},{"kind":"pt","delta":0.18,"log_xi":0.87,"log_phi":-2.34},{"kind":"pt","delta":0.18,"log_xi":1.07,"log_phi":-2.56},{"kind":"pt","delta":0.18,"log_xi":1.24,"log_phi":-2.75},
      {"kind":"pt","delta":0.09,"log_xi":-1.98,"log_phi":-0.25},{"kind":"pt","delta":0.09,"log_xi":-1.8,"log_phi":0.28},{"kind":"pt","delta":0.09,"log_xi":-1.63,"log_phi":0.31},{"kind":"pt","delta":0.09,"log_xi":-1.43,"log_phi":0.23},{"kind":"pt","delta":0.09,"log_xi":-1.24,"log_phi":0.33},{"kind":"pt","delta":0.09,"log_xi":-1.07,"log_phi":0.43},{"kind":"pt","delta":0.09,"log_xi":-0.89,"log_phi":0.33},{"kind":"pt","delta":0.09,"log_xi":-0.7,"log_phi":0.11},{"kind":"pt","delta":0.09,"log_xi":-0.5,"log_phi":0.0},{"kind":"pt","delta":0.09,"log_xi":-0.3,"log_phi":-0.3},{"kind":"pt","delta":0.09,"log_xi":-0.11,"log_phi":-0.67},{"kind":"pt","delta":0.09,"log_xi":0.09,"log_phi":-0.82},{"kind":"pt","delta":0.09,"log_xi":0.28,"log_phi":-1.11},{"kind":"pt","delta":0.09,"log_xi":0.5,"log_phi":-1.41},{"kind":"pt","delta":0.09,"log_xi":0.67,"log_phi":-1.89},{"kind":"pt","delta":0.09,"log_xi":0.87,"log_phi":-2.13},{"kind":"pt","delta":0.09,"log_xi":1.07,"log_phi":-2.59},{"kind":"pt","delta":0.09,"log_xi":1.24,"log_phi":-3.16},
      {"kind":"pt","delta":0.045,"log_xi":-2.57,"log_phi":-0.38},{"kind":"pt","delta":0.045,"log_xi":-2.2,"log_phi":-0.08},{"kind":"pt","delta":0.045,"log_xi":-2.0,"log_phi":0.28},{"kind":"pt","delta":0.045,"log_xi":-1.8,"log_phi":-0.02},{"kind":"pt","delta":0.045,"log_xi":-1.63,"log_phi":0.11},{"kind":"pt","delta":0.045,"log_xi":-1.43,"log_phi":0.31},{"kind":"pt","delta":0.045,"log_xi":-1.24,"log_phi":-0.02},{"kind":"pt","delta":0.045,"log_xi":-1.07,"log_phi":0.33},{"kind":"pt","delta":0.045,"log_xi":-0.87,"log_phi":0.33},{"kind":"pt","delta":0.045,"log_xi":-0.67,"log_phi":0.23},{"kind":"pt","delta":0.045,"log_xi":-0.5,"log_phi":0.07},{"kind":"pt","delta":0.045,"log_xi":-0.3,"log_phi":-0.21},{"kind":"pt","delta":0.045,"log_xi":-0.11,"log_phi":-0.49},{"kind":"pt","delta":0.045,"log_xi":0.09,"log_phi":-0.79},{"kind":"pt","delta":0.045,"log_xi":0.28,"log_phi":-1.03},{"kind":"pt","delta":0.045,"log_xi":0.48,"log_phi":-1.31},{"kind":"pt","delta":0.045,"log_xi":0.67,"log_phi":-1.82},{"kind":"pt","delta":0.045,"log_xi":0.87,"log_phi":-2.26},{"kind":"pt","delta":0.045,"log_xi":1.07,"log_phi":-2.75},{"kind":"pt","delta":0.045,"log_xi":1.26,"log_phi":-3.38},{"kind":"pt","delta":0.045,"log_xi":1.46,"log_phi":-4.02}
    ],
    "r3": [
      {"kind":"note","delta":0.63,"n_label":"= 3"},
      {"kind":"fit","delta":0.63,"log_xi":-5.11,"log_phi":2.74},{"kind":"fit","delta":0.63,"log_xi":-4,"log_phi":2.15},{"kind":"fit","delta":0.63,"log_xi":-3,"log_phi":1.59},{"kind":"fit","delta":0.63,"log_xi":-2,"log_phi":1.0},{"kind":"fit","delta":0.63,"log_xi":-1.37,"log_phi":0.52},{"kind":"fit","delta":0.63,"log_xi":-1,"log_phi":0.2},{"kind":"fit","delta":0.63,"log_xi":-0.5,"log_phi":-0.25},{"kind":"fit","delta":0.63,"log_xi":0,"log_phi":-0.79},{"kind":"fit","delta":0.63,"log_xi":0.4,"log_phi":-1.45},{"kind":"fit","delta":0.63,"log_xi":0.8,"log_phi":-2.26},{"kind":"fit","delta":0.63,"log_xi":1.35,"log_phi":-3.74},{"kind":"fit","delta":0.63,"log_xi":1.78,"log_phi":-5.38},{"kind":"fit","delta":0.63,"log_xi":2.04,"log_phi":-7.14},
      {"kind":"fit","delta":0.45,"log_xi":-5.05,"log_phi":1.92},{"kind":"fit","delta":0.45,"log_xi":-4,"log_phi":1.6},{"kind":"fit","delta":0.45,"log_xi":-3,"log_phi":1.26},{"kind":"fit","delta":0.45,"log_xi":-2,"log_phi":0.82},{"kind":"fit","delta":0.45,"log_xi":-1.3,"log_phi":0.5},{"kind":"fit","delta":0.45,"log_xi":-0.91,"log_phi":0.28},{"kind":"fit","delta":0.45,"log_xi":-0.5,"log_phi":-0.1},{"kind":"fit","delta":0.45,"log_xi":0,"log_phi":-0.72},{"kind":"fit","delta":0.45,"log_xi":0.5,"log_phi":-1.55},{"kind":"fit","delta":0.45,"log_xi":0.86,"log_phi":-2.4},{"kind":"fit","delta":0.45,"log_xi":1.1,"log_phi":-3.1},{"kind":"fit","delta":0.45,"log_xi":1.47,"log_phi":-4.56},{"kind":"fit","delta":0.45,"log_xi":1.7,"log_phi":-5.8},{"kind":"fit","delta":0.45,"log_xi":1.9,"log_phi":-7.14},
      {"kind":"fit","delta":0.36,"log_xi":-5.03,"log_phi":1.75},{"kind":"fit","delta":0.36,"log_xi":-4,"log_phi":1.42},{"kind":"fit","delta":0.36,"log_xi":-3,"log_phi":1.1},{"kind":"fit","delta":0.36,"log_xi":-2,"log_phi":0.78},{"kind":"fit","delta":0.36,"log_xi":-1,"log_phi":0.35},{"kind":"fit","delta":0.36,"log_xi":-0.5,"log_phi":-0.15},{"kind":"fit","delta":0.36,"log_xi":0,"log_phi":-0.78},{"kind":"fit","delta":0.36,"log_xi":0.5,"log_phi":-1.6},{"kind":"fit","delta":0.36,"log_xi":0.84,"log_phi":-2.35},{"kind":"fit","delta":0.36,"log_xi":1.03,"log_phi":-2.92},{"kind":"fit","delta":0.36,"log_xi":1.3,"log_phi":-3.9},{"kind":"fit","delta":0.36,"log_xi":1.55,"log_phi":-5.1},{"kind":"fit","delta":0.36,"log_xi":1.82,"log_phi":-7.14},
      {"kind":"fit","delta":0.27,"log_xi":-5.03,"log_phi":1.67},{"kind":"fit","delta":0.27,"log_xi":-4,"log_phi":1.37},{"kind":"fit","delta":0.27,"log_xi":-3,"log_phi":1.05},{"kind":"fit","delta":0.27,"log_xi":-2,"log_phi":0.75},{"kind":"fit","delta":0.27,"log_xi":-1,"log_phi":0.35},{"kind":"fit","delta":0.27,"log_xi":-0.5,"log_phi":-0.1},{"kind":"fit","delta":0.27,"log_xi":0,"log_phi":-0.7},{"kind":"fit","delta":0.27,"log_xi":0.5,"log_phi":-1.45},{"kind":"fit","delta":0.27,"log_xi":0.84,"log_phi":-2.2},{"kind":"fit","delta":0.27,"log_xi":1.01,"log_phi":-2.75},{"kind":"fit","delta":0.27,"log_xi":1.2,"log_phi":-3.4},{"kind":"fit","delta":0.27,"log_xi":1.39,"log_phi":-4.3},{"kind":"fit","delta":0.27,"log_xi":1.52,"log_phi":-5.3},{"kind":"fit","delta":0.27,"log_xi":1.65,"log_phi":-7.14},
      {"kind":"fit","delta":0.18,"log_xi":-5.07,"log_phi":1.26},{"kind":"fit","delta":0.18,"log_xi":-4,"log_phi":1.08},{"kind":"fit","delta":0.18,"log_xi":-2.98,"log_phi":0.89},{"kind":"fit","delta":0.18,"log_xi":-2,"log_phi":0.7},{"kind":"fit","delta":0.18,"log_xi":-1.37,"log_phi":0.44},{"kind":"fit","delta":0.18,"log_xi":-1,"log_phi":0.3},{"kind":"fit","delta":0.18,"log_xi":-0.5,"log_phi":0.02},{"kind":"fit","delta":0.18,"log_xi":0,"log_phi":-0.72},{"kind":"fit","delta":0.18,"log_xi":0.5,"log_phi":-1.5},{"kind":"fit","delta":0.18,"log_xi":0.87,"log_phi":-2.26},{"kind":"fit","delta":0.18,"log_xi":1.07,"log_phi":-2.8},{"kind":"fit","delta":0.18,"log_xi":1.3,"log_phi":-3.6},{"kind":"fit","delta":0.18,"log_xi":1.5,"log_phi":-4.6},{"kind":"fit","delta":0.18,"log_xi":1.65,"log_phi":-5.7},{"kind":"fit","delta":0.18,"log_xi":1.78,"log_phi":-7.14},
      {"kind":"fit","delta":0.09,"log_xi":-5.07,"log_phi":0.28},{"kind":"fit","delta":0.09,"log_xi":-4,"log_phi":0.32},{"kind":"fit","delta":0.09,"log_xi":-3,"log_phi":0.36},{"kind":"fit","delta":0.09,"log_xi":-2,"log_phi":0.4},{"kind":"fit","delta":0.09,"log_xi":-1,"log_phi":0.38},{"kind":"fit","delta":0.09,"log_xi":-0.5,"log_phi":0.0},{"kind":"fit","delta":0.09,"log_xi":0,"log_phi":-0.68},{"kind":"fit","delta":0.09,"log_xi":0.5,"log_phi":-1.5},{"kind":"fit","delta":0.09,"log_xi":0.87,"log_phi":-2.2},{"kind":"fit","delta":0.09,"log_xi":1.07,"log_phi":-2.75},{"kind":"fit","delta":0.09,"log_xi":1.24,"log_phi":-3.33},{"kind":"fit","delta":0.09,"log_xi":1.43,"log_phi":-4.1},{"kind":"fit","delta":0.09,"log_xi":1.58,"log_phi":-5.2},{"kind":"fit","delta":0.09,"log_xi":1.72,"log_phi":-7.14},
      {"kind":"fit","delta":0.045,"log_xi":-5.07,"log_phi":-0.98},{"kind":"fit","delta":0.045,"log_xi":-4,"log_phi":-0.54},{"kind":"fit","delta":0.045,"log_xi":-3,"log_phi":-0.21},{"kind":"fit","delta":0.045,"log_xi":-2,"log_phi":0.07},{"kind":"fit","delta":0.045,"log_xi":-1.5,"log_phi":0.18},{"kind":"fit","delta":0.045,"log_xi":-1,"log_phi":0.2},{"kind":"fit","delta":0.045,"log_xi":-0.5,"log_phi":0.08},{"kind":"fit","delta":0.045,"log_xi":0,"log_phi":-0.55},{"kind":"fit","delta":0.045,"log_xi":0.5,"log_phi":-1.45},{"kind":"fit","delta":0.045,"log_xi":0.87,"log_phi":-2.35},{"kind":"fit","delta":0.045,"log_xi":1.07,"log_phi":-2.95},{"kind":"fit","delta":0.045,"log_xi":1.26,"log_phi":-3.6},{"kind":"fit","delta":0.045,"log_xi":1.45,"log_phi":-4.5},{"kind":"fit","delta":0.045,"log_xi":1.55,"log_phi":-5.3},{"kind":"fit","delta":0.045,"log_xi":1.63,"log_phi":-7.14},
      {"kind":"pt","delta":0.63,"log_xi":-2.76,"log_phi":1.38},{"kind":"pt","delta":0.63,"log_xi":-2.39,"log_phi":1.34},{"kind":"pt","delta":0.63,"log_xi":-2.2,"log_phi":1.26},{"kind":"pt","delta":0.63,"log_xi":-2.0,"log_phi":1.13},{"kind":"pt","delta":0.63,"log_xi":-1.8,"log_phi":1.3},{"kind":"pt","delta":0.63,"log_xi":-1.63,"log_phi":1.02},{"kind":"pt","delta":0.63,"log_xi":-1.43,"log_phi":0.69},{"kind":"pt","delta":0.63,"log_xi":-1.24,"log_phi":0.77},{"kind":"pt","delta":0.63,"log_xi":-1.04,"log_phi":0.28},{"kind":"pt","delta":0.63,"log_xi":-0.87,"log_phi":-0.05},{"kind":"pt","delta":0.63,"log_xi":-0.67,"log_phi":-0.02},{"kind":"pt","delta":0.63,"log_xi":-0.48,"log_phi":-0.43},{"kind":"pt","delta":0.63,"log_xi":-0.28,"log_phi":-0.49},{"kind":"pt","delta":0.63,"log_xi":-0.09,"log_phi":-1.28},{"kind":"pt","delta":0.63,"log_xi":0.11,"log_phi":-1.28},{"kind":"pt","delta":0.63,"log_xi":0.28,"log_phi":-1.97},{"kind":"pt","delta":0.63,"log_xi":0.48,"log_phi":-2.13},{"kind":"pt","delta":0.63,"log_xi":2.0,"log_phi":-3.69},
      {"kind":"pt","delta":0.45,"log_xi":-2.35,"log_phi":0.52},{"kind":"pt","delta":0.45,"log_xi":-2.16,"log_phi":0.33},{"kind":"pt","delta":0.45,"log_xi":-1.97,"log_phi":0.56},{"kind":"pt","delta":0.45,"log_xi":-1.79,"log_phi":0.64},{"kind":"pt","delta":0.45,"log_xi":-1.6,"log_phi":0.89},{"kind":"pt","delta":0.45,"log_xi":-1.43,"log_phi":0.89},{"kind":"pt","delta":0.45,"log_xi":-1.23,"log_phi":0.48},{"kind":"pt","delta":0.45,"log_xi":-1.04,"log_phi":0.61},{"kind":"pt","delta":0.45,"log_xi":-0.84,"log_phi":0.33},{"kind":"pt","delta":0.45,"log_xi":-0.65,"log_phi":0.03},{"kind":"pt","delta":0.45,"log_xi":-0.48,"log_phi":-0.18},{"kind":"pt","delta":0.45,"log_xi":-0.28,"log_phi":-0.59},{"kind":"pt","delta":0.45,"log_xi":-0.09,"log_phi":-0.49},{"kind":"pt","delta":0.45,"log_xi":0.11,"log_phi":-1.2},{"kind":"pt","delta":0.45,"log_xi":0.3,"log_phi":-1.28},{"kind":"pt","delta":0.45,"log_xi":0.5,"log_phi":-1.77},{"kind":"pt","delta":0.45,"log_xi":0.67,"log_phi":-2.18},{"kind":"pt","delta":0.45,"log_xi":0.86,"log_phi":-2.54},{"kind":"pt","delta":0.45,"log_xi":1.25,"log_phi":-3.36},{"kind":"pt","delta":0.45,"log_xi":1.45,"log_phi":-3.54},{"kind":"pt","delta":0.45,"log_xi":1.81,"log_phi":-3.61},
      {"kind":"pt","delta":0.36,"log_xi":-2.72,"log_phi":0.39},{"kind":"pt","delta":0.36,"log_xi":-2.55,"log_phi":0.2},{"kind":"pt","delta":0.36,"log_xi":-2.36,"log_phi":0.36},{"kind":"pt","delta":0.36,"log_xi":-2.16,"log_phi":0.93},{"kind":"pt","delta":0.36,"log_xi":-1.99,"log_phi":0.72},{"kind":"pt","delta":0.36,"log_xi":-1.8,"log_phi":0.44},{"kind":"pt","delta":0.36,"log_xi":-1.61,"log_phi":0.66},{"kind":"pt","delta":0.36,"log_xi":-1.41,"log_phi":0.66},{"kind":"pt","delta":0.36,"log_xi":-1.24,"log_phi":0.66},{"kind":"pt","delta":0.36,"log_xi":-1.05,"log_phi":0.44},{"kind":"pt","delta":0.36,"log_xi":-0.86,"log_phi":0.28},{"kind":"pt","delta":0.36,"log_xi":-0.66,"log_phi":0.07},{"kind":"pt","delta":0.36,"log_xi":-0.47,"log_phi":-0.26},{"kind":"pt","delta":0.36,"log_xi":-0.28,"log_phi":-0.46},{"kind":"pt","delta":0.36,"log_xi":-0.09,"log_phi":-0.7},{"kind":"pt","delta":0.36,"log_xi":0.11,"log_phi":-0.95},{"kind":"pt","delta":0.36,"log_xi":0.28,"log_phi":-1.25},{"kind":"pt","delta":0.36,"log_xi":0.47,"log_phi":-1.57},{"kind":"pt","delta":0.36,"log_xi":0.64,"log_phi":-2.02},{"kind":"pt","delta":0.36,"log_xi":0.84,"log_phi":-2.39},{"kind":"pt","delta":0.36,"log_xi":1.03,"log_phi":-2.92},{"kind":"pt","delta":0.36,"log_xi":1.8,"log_phi":-4.15},{"kind":"pt","delta":0.36,"log_xi":1.99,"log_phi":-4.31},
      {"kind":"pt","delta":0.27,"log_xi":-2.55,"log_phi":0.41},{"kind":"pt","delta":0.27,"log_xi":-2.36,"log_phi":0.77},{"kind":"pt","delta":0.27,"log_xi":-2.16,"log_phi":0.52},{"kind":"pt","delta":0.27,"log_xi":-1.99,"log_phi":0.82},{"kind":"pt","delta":0.27,"log_xi":-1.8,"log_phi":0.33},{"kind":"pt","delta":0.27,"log_xi":-1.61,"log_phi":0.61},{"kind":"pt","delta":0.27,"log_xi":-1.41,"log_phi":0.66},{"kind":"pt","delta":0.27,"log_xi":-1.22,"log_phi":0.66},{"kind":"pt","delta":0.27,"log_xi":-1.01,"log_phi":0.33},{"kind":"pt","delta":0.27,"log_xi":-0.84,"log_phi":0.28},{"kind":"pt","delta":0.27,"log_xi":-0.66,"log_phi":0.11},{"kind":"pt","delta":0.27,"log_xi":-0.47,"log_phi":-0.21},{"kind":"pt","delta":0.27,"log_xi":-0.28,"log_phi":-0.54},{"kind":"pt","delta":0.27,"log_xi":-0.11,"log_phi":-0.62},{"kind":"pt","delta":0.27,"log_xi":0.09,"log_phi":-0.92},{"kind":"pt","delta":0.27,"log_xi":0.28,"log_phi":-1.2},{"kind":"pt","delta":0.27,"log_xi":0.45,"log_phi":-1.52},{"kind":"pt","delta":0.27,"log_xi":0.64,"log_phi":-1.69},{"kind":"pt","delta":0.27,"log_xi":0.84,"log_phi":-2.26},{"kind":"pt","delta":0.27,"log_xi":1.01,"log_phi":-2.67},{"kind":"pt","delta":0.27,"log_xi":1.2,"log_phi":-3.16},{"kind":"pt","delta":0.27,"log_xi":1.39,"log_phi":-3.82},{"kind":"pt","delta":0.27,"log_xi":1.78,"log_phi":-4.23},
      {"kind":"pt","delta":0.18,"log_xi":-2.37,"log_phi":0.72},{"kind":"pt","delta":0.18,"log_xi":-2.17,"log_phi":0.16},{"kind":"pt","delta":0.18,"log_xi":-1.98,"log_phi":0.52},{"kind":"pt","delta":0.18,"log_xi":-1.8,"log_phi":0.66},{"kind":"pt","delta":0.18,"log_xi":-1.61,"log_phi":0.23},{"kind":"pt","delta":0.18,"log_xi":-1.41,"log_phi":0.39},{"kind":"pt","delta":0.18,"log_xi":-1.24,"log_phi":0.56},{"kind":"pt","delta":0.18,"log_xi":-1.04,"log_phi":0.44},{"kind":"pt","delta":0.18,"log_xi":-0.85,"log_phi":0.28},{"kind":"pt","delta":0.18,"log_xi":-0.65,"log_phi":0.11},{"kind":"pt","delta":0.18,"log_xi":-0.46,"log_phi":-0.02},{"kind":"pt","delta":0.18,"log_xi":-0.26,"log_phi":-0.34},{"kind":"pt","delta":0.18,"log_xi":-0.07,"log_phi":-0.7},{"kind":"pt","delta":0.18,"log_xi":0.11,"log_phi":-0.92},{"kind":"pt","delta":0.18,"log_xi":0.3,"log_phi":-1.2},{"kind":"pt","delta":0.18,"log_xi":0.5,"log_phi":-1.48},{"kind":"pt","delta":0.18,"log_xi":0.67,"log_phi":-1.85},{"kind":"pt","delta":0.18,"log_xi":0.87,"log_phi":-2.26},{"kind":"pt","delta":0.18,"log_xi":1.07,"log_phi":-2.72},{"kind":"pt","delta":0.18,"log_xi":1.26,"log_phi":-3.08},{"kind":"pt","delta":0.18,"log_xi":1.46,"log_phi":-3.52},
      {"kind":"pt","delta":0.09,"log_xi":-2.37,"log_phi":-0.05},{"kind":"pt","delta":0.09,"log_xi":-2.2,"log_phi":0.07},{"kind":"pt","delta":0.09,"log_xi":-2.0,"log_phi":0.33},{"kind":"pt","delta":0.09,"log_xi":-1.8,"log_phi":0.07},{"kind":"pt","delta":0.09,"log_xi":-1.63,"log_phi":0.28},{"kind":"pt","delta":0.09,"log_xi":-1.43,"log_phi":0.33},{"kind":"pt","delta":0.09,"log_xi":-1.24,"log_phi":0.11},{"kind":"pt","delta":0.09,"log_xi":-1.07,"log_phi":0.28},{"kind":"pt","delta":0.09,"log_xi":-0.87,"log_phi":0.36},{"kind":"pt","delta":0.09,"log_xi":-0.67,"log_phi":0.23},{"kind":"pt","delta":0.09,"log_xi":-0.48,"log_phi":0.0},{"kind":"pt","delta":0.09,"log_xi":-0.28,"log_phi":-0.26},{"kind":"pt","delta":0.09,"log_xi":-0.09,"log_phi":-0.54},{"kind":"pt","delta":0.09,"log_xi":0.11,"log_phi":-0.82},{"kind":"pt","delta":0.09,"log_xi":0.3,"log_phi":-1.11},{"kind":"pt","delta":0.09,"log_xi":0.5,"log_phi":-1.52},{"kind":"pt","delta":0.09,"log_xi":0.7,"log_phi":-1.89},{"kind":"pt","delta":0.09,"log_xi":0.87,"log_phi":-2.13},{"kind":"pt","delta":0.09,"log_xi":1.07,"log_phi":-2.75},{"kind":"pt","delta":0.09,"log_xi":1.24,"log_phi":-3.33},{"kind":"pt","delta":0.09,"log_xi":1.43,"log_phi":-4.02},
      {"kind":"pt","delta":0.045,"log_xi":-2.0,"log_phi":-0.7},{"kind":"pt","delta":0.045,"log_xi":-1.8,"log_phi":0.16},{"kind":"pt","delta":0.045,"log_xi":-1.63,"log_phi":-0.05},{"kind":"pt","delta":0.045,"log_xi":-1.43,"log_phi":-0.1},{"kind":"pt","delta":0.045,"log_xi":-1.24,"log_phi":0.2},{"kind":"pt","delta":0.045,"log_xi":-1.07,"log_phi":0.03},{"kind":"pt","delta":0.045,"log_xi":-0.87,"log_phi":0.16},{"kind":"pt","delta":0.045,"log_xi":-0.67,"log_phi":0.2},{"kind":"pt","delta":0.045,"log_xi":-0.5,"log_phi":0.11},{"kind":"pt","delta":0.045,"log_xi":-0.3,"log_phi":-0.16},{"kind":"pt","delta":0.045,"log_xi":-0.11,"log_phi":-0.38},{"kind":"pt","delta":0.045,"log_xi":0.09,"log_phi":-0.75},{"kind":"pt","delta":0.045,"log_xi":0.28,"log_phi":-1.11},{"kind":"pt","delta":0.045,"log_xi":0.48,"log_phi":-1.41},{"kind":"pt","delta":0.045,"log_xi":0.67,"log_phi":-1.82},{"kind":"pt","delta":0.045,"log_xi":0.87,"log_phi":-2.39},{"kind":"pt","delta":0.045,"log_xi":1.07,"log_phi":-2.97},{"kind":"pt","delta":0.045,"log_xi":1.26,"log_phi":-3.54},{"kind":"pt","delta":0.045,"log_xi":1.46,"log_phi":-4.02},{"kind":"pt","delta":0.045,"log_xi":1.65,"log_phi":-4.77}
    ],
    "r4": [
      {"kind":"note","delta":0.63,"n_label":"= 24"},
      {"kind":"empty","delta":0.36},{"kind":"empty","delta":0.18},{"kind":"empty","delta":0.09},{"kind":"empty","delta":0.045},
      {"kind":"fit","delta":0.63,"log_xi":-5.11,"log_phi":1.59},{"kind":"fit","delta":0.63,"log_xi":-4,"log_phi":1.35},{"kind":"fit","delta":0.63,"log_xi":-3,"log_phi":1.1},{"kind":"fit","delta":0.63,"log_xi":-2,"log_phi":0.85},{"kind":"fit","delta":0.63,"log_xi":-1.5,"log_phi":0.62},{"kind":"fit","delta":0.63,"log_xi":-1,"log_phi":0.35},{"kind":"fit","delta":0.63,"log_xi":-0.5,"log_phi":-0.15},{"kind":"fit","delta":0.63,"log_xi":0,"log_phi":-0.8},{"kind":"fit","delta":0.63,"log_xi":0.5,"log_phi":-1.65},{"kind":"fit","delta":0.63,"log_xi":0.87,"log_phi":-2.5},{"kind":"fit","delta":0.63,"log_xi":1.04,"log_phi":-3.0},{"kind":"fit","delta":0.63,"log_xi":1.3,"log_phi":-3.9},{"kind":"fit","delta":0.63,"log_xi":1.55,"log_phi":-5.0},{"kind":"fit","delta":0.63,"log_xi":1.7,"log_phi":-6.0},{"kind":"fit","delta":0.63,"log_xi":1.85,"log_phi":-7.14},
      {"kind":"fit","delta":0.45,"log_xi":-5.05,"log_phi":-0.21},{"kind":"fit","delta":0.45,"log_xi":-4,"log_phi":-0.02},{"kind":"fit","delta":0.45,"log_xi":-3,"log_phi":0.11},{"kind":"fit","delta":0.45,"log_xi":-2,"log_phi":0.2},{"kind":"fit","delta":0.45,"log_xi":-1.5,"log_phi":0.21},{"kind":"fit","delta":0.45,"log_xi":-1,"log_phi":0.2},{"kind":"fit","delta":0.45,"log_xi":-0.5,"log_phi":0.0},{"kind":"fit","delta":0.45,"log_xi":0,"log_phi":-0.65},{"kind":"fit","delta":0.45,"log_xi":0.5,"log_phi":-1.6},{"kind":"fit","delta":0.45,"log_xi":0.86,"log_phi":-2.5},{"kind":"fit","delta":0.45,"log_xi":1.06,"log_phi":-3.05},{"kind":"fit","delta":0.45,"log_xi":1.25,"log_phi":-3.8},{"kind":"fit","delta":0.45,"log_xi":1.4,"log_phi":-4.7},{"kind":"fit","delta":0.45,"log_xi":1.5,"log_phi":-5.6},{"kind":"fit","delta":0.45,"log_xi":1.6,"log_phi":-7.14},
      {"kind":"fit","delta":0.27,"log_xi":-5.03,"log_phi":-1.1},{"kind":"fit","delta":0.27,"log_xi":-4,"log_phi":-0.7},{"kind":"fit","delta":0.27,"log_xi":-3,"log_phi":-0.38},{"kind":"fit","delta":0.27,"log_xi":-2,"log_phi":-0.12},{"kind":"fit","delta":0.27,"log_xi":-1.5,"log_phi":0.02},{"kind":"fit","delta":0.27,"log_xi":-1,"log_phi":0.08},{"kind":"fit","delta":0.27,"log_xi":-0.5,"log_phi":-0.05},{"kind":"fit","delta":0.27,"log_xi":0,"log_phi":-0.55},{"kind":"fit","delta":0.27,"log_xi":0.45,"log_phi":-1.45},{"kind":"fit","delta":0.27,"log_xi":0.84,"log_phi":-2.45},{"kind":"fit","delta":0.27,"log_xi":1.01,"log_phi":-3.0},{"kind":"fit","delta":0.27,"log_xi":1.2,"log_phi":-3.75},{"kind":"fit","delta":0.27,"log_xi":1.35,"log_phi":-4.6},{"kind":"fit","delta":0.27,"log_xi":1.47,"log_phi":-5.6},{"kind":"fit","delta":0.27,"log_xi":1.56,"log_phi":-7.14},
      {"kind":"pt","delta":0.63,"log_xi":-2.57,"log_phi":-0.13},{"kind":"pt","delta":0.63,"log_xi":-2.39,"log_phi":0.16},{"kind":"pt","delta":0.63,"log_xi":-2.2,"log_phi":0.49},{"kind":"pt","delta":0.63,"log_xi":-2.0,"log_phi":0.25},{"kind":"pt","delta":0.63,"log_xi":-1.8,"log_phi":0.66},{"kind":"pt","delta":0.63,"log_xi":-1.63,"log_phi":0.41},{"kind":"pt","delta":0.63,"log_xi":-1.43,"log_phi":0.57},{"kind":"pt","delta":0.63,"log_xi":-1.24,"log_phi":0.61},{"kind":"pt","delta":0.63,"log_xi":-1.04,"log_phi":0.54},{"kind":"pt","delta":0.63,"log_xi":-0.87,"log_phi":0.28},{"kind":"pt","delta":0.63,"log_xi":-0.67,"log_phi":0.08},{"kind":"pt","delta":0.63,"log_xi":-0.48,"log_phi":-0.08},{"kind":"pt","delta":0.63,"log_xi":-0.28,"log_phi":-0.33},{"kind":"pt","delta":0.63,"log_xi":-0.09,"log_phi":-0.82},{"kind":"pt","delta":0.63,"log_xi":0.11,"log_phi":-1.23},{"kind":"pt","delta":0.63,"log_xi":0.28,"log_phi":-1.43},{"kind":"pt","delta":0.63,"log_xi":0.48,"log_phi":-1.85},{"kind":"pt","delta":0.63,"log_xi":0.67,"log_phi":-2.08},{"kind":"pt","delta":0.63,"log_xi":0.87,"log_phi":-2.54},{"kind":"pt","delta":0.63,"log_xi":1.04,"log_phi":-2.95},{"kind":"pt","delta":0.63,"log_xi":1.24,"log_phi":-3.15},{"kind":"pt","delta":0.63,"log_xi":1.43,"log_phi":-3.41},{"kind":"pt","delta":0.63,"log_xi":2.0,"log_phi":-4.7},{"kind":"pt","delta":0.63,"log_xi":2.2,"log_phi":-4.87},
      {"kind":"pt","delta":0.45,"log_xi":-2.16,"log_phi":-0.28},{"kind":"pt","delta":0.45,"log_xi":-1.99,"log_phi":0.08},{"kind":"pt","delta":0.45,"log_xi":-1.79,"log_phi":-0.44},{"kind":"pt","delta":0.45,"log_xi":-1.62,"log_phi":0.16},{"kind":"pt","delta":0.45,"log_xi":-1.43,"log_phi":0.16},{"kind":"pt","delta":0.45,"log_xi":-1.21,"log_phi":-0.05},{"kind":"pt","delta":0.45,"log_xi":-1.02,"log_phi":0.21},{"kind":"pt","delta":0.45,"log_xi":-0.84,"log_phi":0.28},{"kind":"pt","delta":0.45,"log_xi":-0.65,"log_phi":0.16},{"kind":"pt","delta":0.45,"log_xi":-0.48,"log_phi":0.0},{"kind":"pt","delta":0.45,"log_xi":-0.28,"log_phi":-0.16},{"kind":"pt","delta":0.45,"log_xi":-0.09,"log_phi":-0.54},{"kind":"pt","delta":0.45,"log_xi":0.11,"log_phi":-0.87},{"kind":"pt","delta":0.45,"log_xi":0.3,"log_phi":-1.26},{"kind":"pt","delta":0.45,"log_xi":0.5,"log_phi":-1.59},{"kind":"pt","delta":0.45,"log_xi":0.67,"log_phi":-2.02},{"kind":"pt","delta":0.45,"log_xi":0.86,"log_phi":-2.57},{"kind":"pt","delta":0.45,"log_xi":1.06,"log_phi":-2.95},{"kind":"pt","delta":0.45,"log_xi":1.25,"log_phi":-3.49},{"kind":"pt","delta":0.45,"log_xi":1.45,"log_phi":-4.05},{"kind":"pt","delta":0.45,"log_xi":1.62,"log_phi":-4.26},{"kind":"pt","delta":0.45,"log_xi":2.01,"log_phi":-4.92},{"kind":"pt","delta":0.45,"log_xi":2.18,"log_phi":-5.13},
      {"kind":"pt","delta":0.27,"log_xi":-2.93,"log_phi":-0.28},{"kind":"pt","delta":0.27,"log_xi":-2.01,"log_phi":-1.2},{"kind":"pt","delta":0.27,"log_xi":-1.82,"log_phi":0.11},{"kind":"pt","delta":0.27,"log_xi":-1.63,"log_phi":0.08},{"kind":"pt","delta":0.27,"log_xi":-1.43,"log_phi":-0.13},{"kind":"pt","delta":0.27,"log_xi":-1.24,"log_phi":0.16},{"kind":"pt","delta":0.27,"log_xi":-1.05,"log_phi":-0.05},{"kind":"pt","delta":0.27,"log_xi":-0.86,"log_phi":0.08},{"kind":"pt","delta":0.27,"log_xi":-0.66,"log_phi":0.16},{"kind":"pt","delta":0.27,"log_xi":-0.47,"log_phi":0.0},{"kind":"pt","delta":0.27,"log_xi":-0.28,"log_phi":-0.21},{"kind":"pt","delta":0.27,"log_xi":-0.11,"log_phi":-0.41},{"kind":"pt","delta":0.27,"log_xi":0.09,"log_phi":-0.79},{"kind":"pt","delta":0.27,"log_xi":0.28,"log_phi":-1.07},{"kind":"pt","delta":0.27,"log_xi":0.45,"log_phi":-1.52},{"kind":"pt","delta":0.27,"log_xi":0.64,"log_phi":-1.92},{"kind":"pt","delta":0.27,"log_xi":0.84,"log_phi":-2.51},{"kind":"pt","delta":0.27,"log_xi":1.01,"log_phi":-2.98},{"kind":"pt","delta":0.27,"log_xi":1.2,"log_phi":-3.64},{"kind":"pt","delta":0.27,"log_xi":1.39,"log_phi":-4.31},{"kind":"pt","delta":0.27,"log_xi":1.58,"log_phi":-4.31},{"kind":"pt","delta":0.27,"log_xi":1.78,"log_phi":-4.97}
    ]
  },
  "vconcat": [
    {
      "data": {"name": "r1"},
      "facet": {"column": {"field": "delta", "type": "ordinal", "sort": "descending", "title": null, "header": {"labelExpr": "'Δ̃ = ' + datum.value"}}},
      "spacing": 12.7,
      "bounds": "flush",
      "spec": {
        "width": 236, "height": 231,
        "layer": [
          {"transform": [{"filter": "datum.kind == 'fit'"}], "mark": {"type": "line", "color": "#7b9be8", "strokeWidth": 3, "interpolate": "monotone", "clip": true},
           "encoding": {"x": {"field": "log_xi", "type": "quantitative", "scale": {"domain": [-5.08, 3], "nice": false, "zero": false}, "axis": {"values": [-3, 0, 3], "labels": false, "title": null}},
                        "y": {"field": "log_phi", "type": "quantitative", "scale": {"domain": [-7.14, 4.29], "nice": false, "zero": false}, "axis": {"values": [-6, -3, 0, 3], "title": "ϕ(ξ)", "labelExpr": "datum.value == 3 ? '10³' : datum.value == 0 ? '10⁰' : datum.value == -3 ? '10⁻³' : '10⁻⁶'"}}}},
          {"transform": [{"filter": "datum.kind == 'pt'"}], "mark": {"type": "circle", "size": 72, "fillOpacity": 0.55, "strokeOpacity": 0.9, "strokeWidth": 1.6},
           "encoding": {"x": {"field": "log_xi", "type": "quantitative"}, "y": {"field": "log_phi", "type": "quantitative"},
                        "color": {"field": "delta", "type": "quantitative", "scale": {"scheme": "plasma", "domain": [0, 1]}, "legend": {"type": "gradient", "title": "Δ̃", "values": [0.2, 0.4, 0.6, 0.8]}},
                        "stroke": {"field": "delta", "type": "quantitative", "scale": {"scheme": "plasma", "domain": [0, 1.0001]}, "legend": null}}},
          {"transform": [{"filter": "datum.kind == 'note'"}], "mark": {"type": "rule", "color": "#7b9be8", "strokeWidth": 3}, "encoding": {"x": {"datum": -4.57}, "x2": {"datum": -3.13}, "y": {"datum": -5.7}}},
          {"transform": [{"filter": "datum.kind == 'note'"}], "mark": {"type": "text", "text": "best fit", "align": "left", "baseline": "middle", "fontSize": 25, "color": "#262626"}, "encoding": {"x": {"datum": -2.6}, "y": {"datum": -5.75}}},
          {"transform": [{"filter": "datum.kind == 'note'"}], "mark": {"type": "text", "text": "n", "align": "right", "baseline": "alphabetic", "fontSize": 20, "fontStyle": "italic", "color": "#262626"}, "encoding": {"x": {"datum": 0.45}, "y": {"datum": 2.43}}},
          {"transform": [{"filter": "datum.kind == 'note'"}], "mark": {"type": "text", "align": "left", "baseline": "alphabetic", "fontSize": 20, "color": "#262626"}, "encoding": {"x": {"datum": 0.62}, "y": {"datum": 2.43}, "text": {"field": "n_label"}}}
        ]
      }
    },
    {
      "data": {"name": "r2"},
      "facet": {"column": {"field": "delta", "type": "ordinal", "sort": "descending", "title": null, "header": {"labels": false}}},
      "spacing": 12.7,
      "bounds": "flush",
      "spec": {
        "width": 236, "height": 231,
        "layer": [
          {"transform": [{"filter": "datum.kind == 'fit'"}], "mark": {"type": "line", "color": "#7b9be8", "strokeWidth": 3, "interpolate": "monotone", "clip": true},
           "encoding": {"x": {"field": "log_xi", "type": "quantitative", "scale": {"domain": [-5.08, 3], "nice": false, "zero": false}, "axis": {"values": [-3, 0, 3], "labels": false, "title": null}},
                        "y": {"field": "log_phi", "type": "quantitative", "scale": {"domain": [-7.14, 4.29], "nice": false, "zero": false}, "axis": {"values": [-6, -3, 0, 3], "title": "ϕ(ξ)", "labelExpr": "datum.value == 3 ? '10³' : datum.value == 0 ? '10⁰' : datum.value == -3 ? '10⁻³' : '10⁻⁶'"}}}},
          {"transform": [{"filter": "datum.kind == 'pt'"}], "mark": {"type": "circle", "size": 72, "fillOpacity": 0.55, "strokeOpacity": 0.9, "strokeWidth": 1.6},
           "encoding": {"x": {"field": "log_xi", "type": "quantitative"}, "y": {"field": "log_phi", "type": "quantitative"},
                        "color": {"field": "delta", "type": "quantitative", "scale": {"scheme": "plasma", "domain": [0, 1]}, "legend": {"type": "gradient", "title": "Δ̃", "values": [0.2, 0.4, 0.6, 0.8]}},
                        "stroke": {"field": "delta", "type": "quantitative", "scale": {"scheme": "plasma", "domain": [0, 1.0001]}, "legend": null}}},
          {"transform": [{"filter": "datum.kind == 'note'"}], "mark": {"type": "rule", "color": "#7b9be8", "strokeWidth": 3}, "encoding": {"x": {"datum": -4.57}, "x2": {"datum": -3.13}, "y": {"datum": -5.7}}},
          {"transform": [{"filter": "datum.kind == 'note'"}], "mark": {"type": "text", "text": "best fit", "align": "left", "baseline": "middle", "fontSize": 25, "color": "#262626"}, "encoding": {"x": {"datum": -2.6}, "y": {"datum": -5.75}}},
          {"transform": [{"filter": "datum.kind == 'note'"}], "mark": {"type": "text", "text": "n", "align": "right", "baseline": "alphabetic", "fontSize": 20, "fontStyle": "italic", "color": "#262626"}, "encoding": {"x": {"datum": 0.45}, "y": {"datum": 2.43}}},
          {"transform": [{"filter": "datum.kind == 'note'"}], "mark": {"type": "text", "align": "left", "baseline": "alphabetic", "fontSize": 20, "color": "#262626"}, "encoding": {"x": {"datum": 0.62}, "y": {"datum": 2.43}, "text": {"field": "n_label"}}}
        ]
      }
    },
    {
      "data": {"name": "r3"},
      "facet": {"column": {"field": "delta", "type": "ordinal", "sort": "descending", "title": null, "header": {"labels": false}}},
      "spacing": 12.7,
      "bounds": "flush",
      "spec": {
        "width": 236, "height": 231,
        "layer": [
          {"transform": [{"filter": "datum.kind == 'fit'"}], "mark": {"type": "line", "color": "#7b9be8", "strokeWidth": 3, "interpolate": "monotone", "clip": true},
           "encoding": {"x": {"field": "log_xi", "type": "quantitative", "scale": {"domain": [-5.08, 3], "nice": false, "zero": false}, "axis": {"values": [-3, 0, 3], "labels": false, "title": null}},
                        "y": {"field": "log_phi", "type": "quantitative", "scale": {"domain": [-7.14, 4.29], "nice": false, "zero": false}, "axis": {"values": [-6, -3, 0, 3], "title": "ϕ(ξ)", "labelExpr": "datum.value == 3 ? '10³' : datum.value == 0 ? '10⁰' : datum.value == -3 ? '10⁻³' : '10⁻⁶'"}}}},
          {"transform": [{"filter": "datum.kind == 'pt'"}], "mark": {"type": "circle", "size": 72, "fillOpacity": 0.55, "strokeOpacity": 0.9, "strokeWidth": 1.6},
           "encoding": {"x": {"field": "log_xi", "type": "quantitative"}, "y": {"field": "log_phi", "type": "quantitative"},
                        "color": {"field": "delta", "type": "quantitative", "scale": {"scheme": "plasma", "domain": [0, 1]}, "legend": {"type": "gradient", "title": "Δ̃", "values": [0.2, 0.4, 0.6, 0.8]}},
                        "stroke": {"field": "delta", "type": "quantitative", "scale": {"scheme": "plasma", "domain": [0, 1.0001]}, "legend": null}}},
          {"transform": [{"filter": "datum.kind == 'note'"}], "mark": {"type": "rule", "color": "#7b9be8", "strokeWidth": 3}, "encoding": {"x": {"datum": -4.57}, "x2": {"datum": -3.13}, "y": {"datum": -5.7}}},
          {"transform": [{"filter": "datum.kind == 'note'"}], "mark": {"type": "text", "text": "best fit", "align": "left", "baseline": "middle", "fontSize": 25, "color": "#262626"}, "encoding": {"x": {"datum": -2.6}, "y": {"datum": -5.75}}},
          {"transform": [{"filter": "datum.kind == 'note'"}], "mark": {"type": "text", "text": "n", "align": "right", "baseline": "alphabetic", "fontSize": 20, "fontStyle": "italic", "color": "#262626"}, "encoding": {"x": {"datum": 0.45}, "y": {"datum": 2.43}}},
          {"transform": [{"filter": "datum.kind == 'note'"}], "mark": {"type": "text", "align": "left", "baseline": "alphabetic", "fontSize": 20, "color": "#262626"}, "encoding": {"x": {"datum": 0.62}, "y": {"datum": 2.43}, "text": {"field": "n_label"}}}
        ]
      }
    },
    {
      "data": {"name": "r4"},
      "facet": {"column": {"field": "delta", "type": "ordinal", "sort": "descending", "title": null, "header": {"labels": false}}},
      "spacing": 12.7,
      "bounds": "flush",
      "spec": {
        "width": 236, "height": 231,
        "layer": [
          {"transform": [{"filter": "datum.kind == 'empty'"}], "mark": {"type": "rect", "fill": "#eaeaf2"}, "encoding": {"x": {"value": 0}, "x2": {"value": "width"}, "y": {"value": 0}, "y2": {"value": "height"}}},
          {"transform": [{"filter": "datum.kind == 'empty'"}], "mark": {"type": "rule", "color": "#ffffff", "strokeWidth": 1.5}, "encoding": {"x": {"value": 0}, "x2": {"value": "width"}, "y": {"value": 0}, "y2": {"value": "height"}}},
          {"transform": [{"filter": "datum.kind == 'fit'"}], "mark": {"type": "line", "color": "#7b9be8", "strokeWidth": 3, "interpolate": "monotone", "clip": true},
           "encoding": {"x": {"field": "log_xi", "type": "quantitative", "scale": {"domain": [-5.08, 3], "nice": false, "zero": false}, "axis": {"values": [-3, 0, 3], "title": "ξ", "labelExpr": "datum.value == 3 ? '10³' : datum.value == 0 ? '10⁰' : '10⁻³'"}},
                        "y": {"field": "log_phi", "type": "quantitative", "scale": {"domain": [-7.14, 4.29], "nice": false, "zero": false}, "axis": {"values": [-6, -3, 0, 3], "title": "ϕ(ξ)", "labelExpr": "datum.value == 3 ? '10³' : datum.value == 0 ? '10⁰' : datum.value == -3 ? '10⁻³' : '10⁻⁶'"}}}},
          {"transform": [{"filter": "datum.kind == 'pt'"}], "mark": {"type": "circle", "size": 72, "fillOpacity": 0.55, "strokeOpacity": 0.9, "strokeWidth": 1.6},
           "encoding": {"x": {"field": "log_xi", "type": "quantitative"}, "y": {"field": "log_phi", "type": "quantitative"},
                        "color": {"field": "delta", "type": "quantitative", "scale": {"scheme": "plasma", "domain": [0, 1]}, "legend": {"type": "gradient", "title": "Δ̃", "values": [0.2, 0.4, 0.6, 0.8], "offset": -7}},
                        "stroke": {"field": "delta", "type": "quantitative", "scale": {"scheme": "plasma", "domain": [0, 1.0001]}, "legend": null}}},
          {"transform": [{"filter": "datum.kind == 'note'"}], "mark": {"type": "rule", "color": "#7b9be8", "strokeWidth": 3}, "encoding": {"x": {"datum": -4.57}, "x2": {"datum": -3.13}, "y": {"datum": -5.7}}},
          {"transform": [{"filter": "datum.kind == 'note'"}], "mark": {"type": "text", "text": "best fit", "align": "left", "baseline": "middle", "fontSize": 25, "color": "#262626"}, "encoding": {"x": {"datum": -2.6}, "y": {"datum": -5.75}}},
          {"transform": [{"filter": "datum.kind == 'note'"}], "mark": {"type": "text", "text": "n", "align": "right", "baseline": "alphabetic", "fontSize": 20, "fontStyle": "italic", "color": "#262626"}, "encoding": {"x": {"datum": 0.45}, "y": {"datum": 2.43}}},
          {"transform": [{"filter": "datum.kind == 'note'"}], "mark": {"type": "text", "align": "left", "baseline": "alphabetic", "fontSize": 20, "color": "#262626"}, "encoding": {"x": {"datum": 0.62}, "y": {"datum": 2.43}, "text": {"field": "n_label"}}}
        ]
      }
    }
  ],
  "resolve": {"scale": {"color": "independent", "stroke": "independent"}, "legend": {"color": "independent"}},
  "config": {
    "font": "Lato",
    "view": {"fill": "#eaeaf2", "stroke": null},
    "axis": {"domain": false, "ticks": false, "grid": true, "gridColor": "#ffffff", "gridWidth": 2, "labelFont": "Lato", "labelFontSize": 24, "labelColor": "#262626", "labelOverlap": false, "titleFont": "Lato", "titleFontSize": 26, "titleFontWeight": "normal", "titleFontStyle": "italic", "titleColor": "#262626"},
    "axisY": {"labelPadding": 12, "titlePadding": 6},
    "axisX": {"labelPadding": 8, "titlePadding": 2, "labelFlush": false},
    "header": {"labelFont": "Lato", "labelFontSize": 30, "labelColor": "#22264f", "labelPadding": 12},
    "legend": {"orient": "right", "offset": 11, "direction": "vertical", "gradientLength": 231, "gradientThickness": 9, "gradientStrokeWidth": 0, "format": ".1f", "labelFont": "Lato", "labelFontSize": 23, "labelColor": "#111111", "labelOffset": 5, "labelOverlap": false, "titleFont": "Lato", "titleFontSize": 26, "titleFontWeight": "normal", "titleColor": "#111111", "titleOrient": "right", "titleAngle": 270, "titleAnchor": "middle", "titlePadding": 4}
  }
}
